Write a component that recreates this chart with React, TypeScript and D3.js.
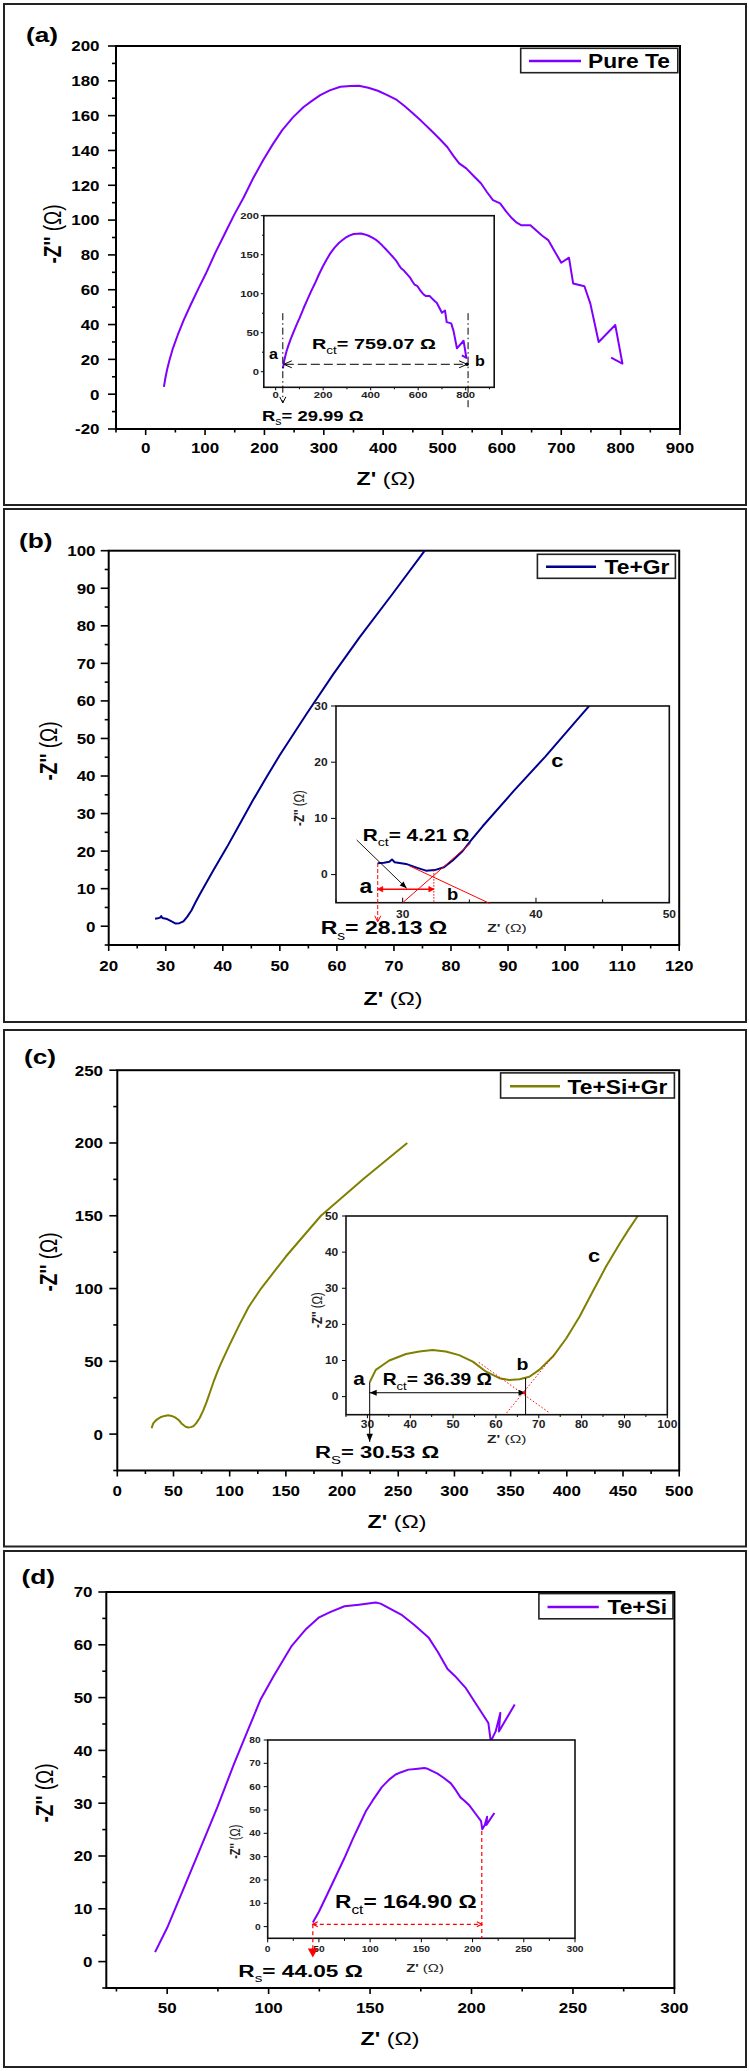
import React from 'react';
import * as d3 from 'd3';

type Pt = [number, number];

// ---------------- data: [Z' (Ω), -Z'' (Ω)] ----------------
const pureTeData: Pt[] = [
  [30.7, 4.2], [33, 9], [36, 14], [40, 19.5], [46, 26.5], [54, 34], [64, 42.5], [76, 51.5], [90, 61.5],
  [101, 69], [117, 81], [133, 92], [149, 103], [165, 113], [181, 124], [198, 134.5], [214, 143.5], [230, 151.7],
  [248, 159], [266, 165], [280, 168.5], [294, 171.8], [310, 174.5], [328, 176.6], [345, 177],
  [359, 177.2], [375, 176], [391, 174.3], [407, 171.8], [423, 169], [436, 165.5], [448, 162],
  [464, 157], [480, 151.7], [494, 147], [508, 142], [518, 137], [528, 132.6], [540, 129.7],
  [552, 125.5], [565, 121], [575, 116], [585, 111.5], [597, 109.6], [607, 105], [617, 101],
  [625, 98.5], [633, 97], [648, 97], [658, 94], [668, 91], [678, 88.5], [689, 82], [700, 75.5],
  [713, 78.4], [720, 63.6], [739, 62], [749, 52], [763, 30], [791, 39.7], [803, 17.6], [784, 21],
];

const teGrData: Pt[] = [
  [28.13, 2.0], [28.6, 2.1], [29.0, 2.3], [29.2, 2.7], [29.4, 2.2], [30.25, 1.9], [31.1, 1.2],
  [31.75, 0.7], [32.4, 0.8], [33.1, 1.3], [33.75, 2.5], [34.5, 4.2], [35.2, 6.3], [36.0, 8.6],
  [38.3, 14.8], [40.7, 21.0], [43.0, 27.3], [45.3, 33.6], [47.7, 39.8], [50.0, 45.6], [54.7, 56.6],
  [59.4, 67.2], [64.0, 77.0], [69.8, 88.6], [75.4, 100],
];

const teSiGrData: Pt[] = [
  [30.53, 4.0], [31.95, 7.4], [35.1, 10], [39, 11.8], [42.1, 12.5], [45.2, 12.9], [48.3, 12.5],
  [51.4, 11.5], [54.6, 9.7], [57.7, 6.9], [60.8, 5.1], [63.1, 4.6], [65.5, 4.8], [67.8, 5.5],
  [70.1, 7.4], [73.3, 11.1], [76.4, 16.1], [79.5, 22.1], [82.6, 29.1], [85.7, 36], [88.8, 42.2],
  [91, 46.3], [93.1, 50], [100, 61.5], [108.7, 75.2], [117, 87.5], [127.9, 100], [150, 122],
  [181.2, 150], [220, 176], [258, 200],
];

const teSiData: Pt[] = [
  [44.05, 1.8], [50, 6.4], [58.3, 14], [66.5, 21.6], [74.8, 29.3], [83.1, 37.6], [90.2, 44.2],
  [96.1, 49.7], [102.5, 54.1], [111.4, 59.8], [118.5, 63], [124.9, 65.2], [130.3, 66.2],
  [137.4, 67.3], [144.5, 67.6], [152.8, 68], [155.2, 67.8], [165.8, 65.6], [171.7, 63.8],
  [178.8, 61.4], [183.5, 58.6], [188.2, 55.4], [191.8, 54.1], [197, 51.9], [202.4, 48.7],
  [208.3, 45.2], [209.5, 41.7], [211.9, 43.6], [214.2, 47.1], [213.5, 43.6], [221.3, 48.7],
];

const panelTags = ['(a)', '(b)', '(c)', '(d)'];
const legendLabels = ['Pure Te', 'Te+Gr', 'Te+Si+Gr', 'Te+Si'];
const seriesColors = ['#8000ff', '#000090', '#808000', '#8000ff'];

// ---------------- ticks ----------------
const aXMajor = [0, 100, 200, 300, 400, 500, 600, 700, 800, 900];
const aXMinor = [-50, 50, 150, 250, 350, 450, 550, 650, 750, 850];
const aYMajor = [-20, 0, 20, 40, 60, 80, 100, 120, 140, 160, 180, 200];
const aYMinor = [-10, 10, 30, 50, 70, 90, 110, 130, 150, 170, 190];
const aInXMajor = [0, 200, 400, 600, 800];
const aInXMinor = [100, 300, 500, 700, 900];
const aInYMajor = [0, 50, 100, 150, 200];
const aInYMinor = [25, 75, 125, 175];

const bXMajor = [20, 30, 40, 50, 60, 70, 80, 90, 100, 110, 120];
const bXMinor = [25, 35, 45, 55, 65, 75, 85, 95, 105, 115];
const bYMajor = [0, 10, 20, 30, 40, 50, 60, 70, 80, 90, 100];
const bYMinor = [-5, 5, 15, 25, 35, 45, 55, 65, 75, 85, 95];
const bInXMajor = [30, 40, 50];
const bInXMinor = [25, 35, 45];
const bInYMajor = [0, 10, 20, 30];
const bInYMinor: number[] = [];

const cXMajor = [0, 50, 100, 150, 200, 250, 300, 350, 400, 450, 500];
const cXMinor = [25, 75, 125, 175, 225, 275, 325, 375, 425, 475];
const cYMajor = [0, 50, 100, 150, 200, 250];
const cYMinor = [-25, 25, 75, 125, 175, 225];
const cInXMajor = [30, 40, 50, 60, 70, 80, 90, 100];
const cInXMinor = [25, 35, 45, 55, 65, 75, 85, 95];
const cInYMajor = [0, 10, 20, 30, 40, 50];
const cInYMinor: number[] = [];

const dXMajor = [50, 100, 150, 200, 250, 300];
const dXMinor = [25, 75, 125, 175, 225, 275];
const dYMajor = [0, 10, 20, 30, 40, 50, 60, 70];
const dYMinor = [-5, 5, 15, 25, 35, 45, 55, 65];
const dInXMajor = [0, 50, 100, 150, 200, 250, 300];
const dInXMinor = [25, 75, 125, 175, 225, 275];
const dInYMajor = [0, 10, 20, 30, 40, 50, 60, 70, 80];
const dInYMinor: number[] = [];

// ---------------- helpers ----------------
const FONT = "'Liberation Sans', Arial, Helvetica, sans-serif";

function Txt(props: any) {
  const { x, y, size, children, anchor = 'start', weight = 'bold', sx = 1.2, fill = '#000', rot = false } = props;
  const tr = rot
    ? `translate(${x},${y}) rotate(-90) scale(1,${sx})`
    : `translate(${x},${y}) scale(${sx},1)`;
  return (
    <text transform={tr} fontFamily={FONT} fontSize={size} fontWeight={weight} textAnchor={anchor} fill={fill}>
      {children}
    </text>
  );
}

function RLabel({ x, y, size, sub, value, sx = 1.28 }: any) {
  return (
    <Txt x={x} y={y} size={size} sx={sx}>
      R
      <tspan fontSize={size * 0.68} fontWeight="normal" dy={size * 0.32}>{sub}</tspan>
      <tspan dy={-size * 0.32}>{value}</tspan>
    </Txt>
  );
}

function head(px: number, py: number, deg: number, len: number, half: number, closed = false) {
  const a = (deg * Math.PI) / 180;
  const bx = px - len * Math.cos(a);
  const by = py - len * Math.sin(a);
  const nx = -Math.sin(a) * half;
  const ny = Math.cos(a) * half;
  return `M${bx + nx},${by + ny}L${px},${py}L${bx - nx},${by - ny}${closed ? 'Z' : ''}`;
}

function angleOf(x1: number, y1: number, x2: number, y2: number) {
  return (Math.atan2(y2 - y1, x2 - x1) * 180) / Math.PI;
}

type Sc = d3.ScaleLinear<number, number>;

interface AxisSpec { domain: [number, number]; range: [number, number]; major: number[]; minor: number[] }
interface InsetSpec {
  x: AxisSpec; y: AxisSpec;
  yLen: number; xLen: number; xIn: boolean;
  labelSize: number; labelSx: number; yLabelRight: number; xLabelBaseline: number;
  xTitle?: [number, number]; yTitle?: [number, number]; titleSize?: number;
}
interface PanelCfg {
  border: [number, number];
  tagPos: [number, number];
  data: Pt[];
  x: AxisSpec; y: AxisSpec;
  yLabelRight: number; xLabelBaseline: number;
  legend: { x0: number; x1: number; y0: number; y1: number; l0: number; l1: number; ly: number; tx: number; tb: number };
  xTitle: [number, number]; yTitle: [number, number];
  inset: InsetSpec;
  annot: (ix: Sc, iy: Sc) => React.ReactNode;
}

// ---------------- annotations ----------------
function annotA(ix: Sc, iy: Sc) {
  const xl = ix(30), xr = ix(810), yh = iy(9.5);
  const dd = '7,3,1.5,3';
  return (
    <g>
      <line x1={xl} x2={xl} y1={iy(75)} y2={iy(-40)} stroke="#000" strokeWidth={1} strokeDasharray={dd} />
      <path d={head(xl, iy(-40), 90, 6, 3)} fill="none" stroke="#000" strokeWidth={1} />
      <line x1={xr} x2={xr} y1={iy(75)} y2={iy(-49)} stroke="#000" strokeWidth={1} strokeDasharray={dd} />
      <line x1={xl + 2} x2={xr - 2} y1={yh} y2={yh} stroke="#000" strokeWidth={1} strokeDasharray="9,4" />
      <path d={head(xl + 1, yh, 180, 8, 3.5)} fill="none" stroke="#000" strokeWidth={1} />
      <path d={head(xr - 1, yh, 0, 8, 3.5)} fill="none" stroke="#000" strokeWidth={1} />
      <circle cx={xr - 1} cy={yh} r={1.8} fill="#000" />
      <Txt x={ix(-9)} y={iy(16.3)} size={14} anchor="middle" sx={1.15}>a</Txt>
      <Txt x={ix(860)} y={iy(7.3)} size={14} anchor="middle" sx={1.15}>b</Txt>
      <RLabel x={ix(153)} y={iy(28.7)} size={15.5} sub="ct" value="= 759.07 Ω" sx={1.28} />
      <RLabel x={ix(-58)} y={iy(-62.8)} size={15} sub="s" value="= 29.99 Ω" sx={1.23} />
    </g>
  );
}

function annotB(ix: Sc, iy: Sc) {
  const xa = ix(28.13), xb = ix(32.34), yh = iy(-2.6);
  const ax1 = ix(26.55), ay1 = iy(6.16), ax2 = ix(30.3), ay2 = iy(-2.44);
  return (
    <g>
      <line x1={ix(30)} y1={iy(-5)} x2={ix(35.1)} y2={iy(5.6)} stroke="#ff0000" strokeWidth={1} />
      <line x1={ix(30.5)} y1={iy(1.56)} x2={ix(36.5)} y2={iy(-5.1)} stroke="#ff0000" strokeWidth={1} />
      <line x1={xa} x2={xa} y1={iy(2.06)} y2={iy(-8.4)} stroke="#ff0000" strokeWidth={1} strokeDasharray="4,2" />
      <path d={head(xa, iy(-8.4), 90, 6, 3)} fill="none" stroke="#ff0000" strokeWidth={1} />
      <line x1={xb} x2={xb} y1={iy(0.8)} y2={iy(-5)} stroke="#ff0000" strokeWidth={1} strokeDasharray="1.5,1.5" />
      <line x1={xa} x2={xb} y1={yh} y2={yh} stroke="#ff0000" strokeWidth={1.4} />
      <path d={head(xa, yh, 180, 5, 2.6, true)} fill="#ff0000" stroke="#ff0000" strokeWidth={0.8} />
      <path d={head(xb, yh, 0, 5, 2.6, true)} fill="#ff0000" stroke="#ff0000" strokeWidth={0.8} />
      <line x1={ax1} y1={ay1} x2={ax2} y2={ay2} stroke="#000" strokeWidth={0.9} />
      <path d={head(ax2, ay2, angleOf(ax1, ay1, ax2, ay2), 7, 2.8, true)} fill="#000" />
      <Txt x={ix(27.25)} y={iy(-3.3)} size={20} anchor="middle" sx={1.15}>a</Txt>
      <Txt x={ix(33.74)} y={iy(-4.5)} size={16} anchor="middle" sx={1.15}>b</Txt>
      <Txt x={ix(41.6)} y={iy(19.2)} size={19} anchor="middle" sx={1.15}>c</Txt>
      <RLabel x={ix(27.0)} y={iy(6.03)} size={16} sub="ct" value="= 4.21 Ω" sx={1.3} />
      <RLabel x={ix(23.85)} y={iy(-10.6)} size={17.7} sub="s" value="= 28.13 Ω" sx={1.3} />
    </g>
  );
}

function annotC(ix: Sc, iy: Sc) {
  const xa = ix(30.53), xb = ix(66.92), yh = iy(1.08);
  return (
    <g>
      <line x1={ix(62.5)} y1={iy(-4.5)} x2={ix(73.5)} y2={iy(11.5)} stroke="#ff0000" strokeWidth={1} strokeDasharray="1.5,2" />
      <line x1={ix(56)} y1={iy(9.5)} x2={ix(72.5)} y2={iy(-4.5)} stroke="#ff0000" strokeWidth={1} strokeDasharray="1.5,2" />
      <line x1={xa} x2={xa} y1={iy(4.0)} y2={iy(-12.5)} stroke="#000" strokeWidth={1} />
      <path d={head(xa, iy(-12.5), 90, 8, 3.2, true)} fill="#000" />
      <line x1={xb} x2={xb} y1={iy(5.15)} y2={iy(-5)} stroke="#000" strokeWidth={1} />
      <line x1={xa} x2={xb} y1={yh} y2={yh} stroke="#000" strokeWidth={1} />
      <path d={head(xa, yh, 180, 7, 3, true)} fill="#000" />
      <path d={head(xb, yh, 0, 7, 3, true)} fill="#000" />
      <circle cx={ix(66.6)} cy={iy(1.1)} r={1.6} fill="#ff0000" />
      <Txt x={ix(28.03)} y={iy(3.2)} size={18} anchor="middle" sx={1.15}>a</Txt>
      <Txt x={ix(66.2)} y={iy(7.36)} size={17} anchor="middle" sx={1.15}>b</Txt>
      <Txt x={ix(82.9)} y={iy(37.3)} size={19} anchor="middle" sx={1.15}>c</Txt>
      <RLabel x={ix(33.57)} y={iy(3.2)} size={16} sub="ct" value="= 36.39 Ω" sx={1.2} />
      <RLabel x={ix(17.76)} y={iy(-17.1)} size={17} sub="S" value="= 30.53 Ω" sx={1.3} />
    </g>
  );
}

function annotD(ix: Sc, iy: Sc) {
  const xa = ix(44.05), xb = ix(209), yh = iy(1.0);
  return (
    <g>
      <line x1={xa} x2={xb} y1={yh} y2={yh} stroke="#ff0000" strokeWidth={1.2} strokeDasharray="4,3" />
      <path d={head(xa, yh, 180, 5, 2.5)} fill="none" stroke="#ff0000" strokeWidth={1.2} />
      <path d={head(xb, yh, 0, 5, 2.5)} fill="none" stroke="#ff0000" strokeWidth={1.2} />
      <line x1={xb} x2={xb} y1={iy(41)} y2={iy(-5)} stroke="#ff0000" strokeWidth={1.2} strokeDasharray="4,3" />
      <line x1={xa} x2={xa} y1={yh} y2={iy(-10)} stroke="#ff0000" strokeWidth={1.2} strokeDasharray="4,3" />
      <path d={head(xa, iy(-13.2), 90, 9, 5, true)} fill="#ff0000" />
      <RLabel x={ix(65.7)} y={iy(8.1)} size={18.6} sub="ct" value="= 164.90 Ω" sx={1.22} />
      <RLabel x={ix(-28.7)} y={iy(-21.5)} size={17} sub="s" value="= 44.05 Ω" sx={1.33} />
    </g>
  );
}

// ---------------- panel layout ----------------
const panels: PanelCfg[] = [
  {
    border: [4, 505], tagPos: [26, 41.7], data: pureTeData,
    x: { domain: [-50, 900], range: [116, 680], major: aXMajor, minor: aXMinor },
    y: { domain: [-20, 200], range: [429, 46], major: aYMajor, minor: aYMinor },
    yLabelRight: 99.5, xLabelBaseline: 453,
    legend: { x0: 520.7, x1: 677.8, y0: 48.3, y1: 72.7, l0: 529, l1: 581, ly: 61, tx: 588, tb: 68.3 },
    xTitle: [386, 485], yTitle: [61, 234],
    inset: {
      x: { domain: [-50, 920], range: [263.8, 494.2], major: aInXMajor, minor: aInXMinor },
      y: { domain: [-20, 200], range: [387.3, 215.7], major: aInYMajor, minor: aInYMinor },
      yLen: 3, xLen: 3, xIn: false, labelSize: 9, labelSx: 1.25, yLabelRight: 259, xLabelBaseline: 398.3,
    },
    annot: annotA,
  },
  {
    border: [509, 1022], tagPos: [19, 547.5], data: teGrData,
    x: { domain: [20, 120], range: [108.7, 679.2], major: bXMajor, minor: bXMinor },
    y: { domain: [-5, 100], range: [945, 550.7], major: bYMajor, minor: bYMinor },
    yLabelRight: 95.5, xLabelBaseline: 971,
    legend: { x0: 537.4, x1: 675.4, y0: 554.3, y1: 578.3, l0: 546, l1: 596, ly: 566.7, tx: 604.5, tb: 574 },
    xTitle: [393, 1005], yTitle: [56.5, 751],
    inset: {
      x: { domain: [25, 50], range: [336, 669.3], major: bInXMajor, minor: bInXMinor },
      y: { domain: [-5, 30], range: [902.7, 706], major: bInYMajor, minor: bInYMinor },
      yLen: 5, xLen: 5, xIn: true, labelSize: 10, labelSx: 1.2, yLabelRight: 327.7, xLabelBaseline: 918,
      xTitle: [507, 931.7], yTitle: [304, 808], titleSize: 11.5,
    },
    annot: annotB,
  },
  {
    border: [1030, 1546.5], tagPos: [24, 1064], data: teSiGrData,
    x: { domain: [0, 500], range: [117.3, 679.2], major: cXMajor, minor: cXMinor },
    y: { domain: [-25, 250], range: [1470.5, 1070.2], major: cYMajor, minor: cYMinor },
    yLabelRight: 103, xLabelBaseline: 1496,
    legend: { x0: 500.6, x1: 674.4, y0: 1072.9, y1: 1098, l0: 510, l1: 560, ly: 1086.3, tx: 567.6, tb: 1093.5 },
    xTitle: [397, 1527.5], yTitle: [56.5, 1262],
    inset: {
      x: { domain: [25, 100], range: [346, 667.3], major: cInXMajor, minor: cInXMinor },
      y: { domain: [-5, 50], range: [1414.7, 1216], major: cInYMajor, minor: cInYMinor },
      yLen: 4, xLen: 3.5, xIn: false, labelSize: 10, labelSx: 1.2, yLabelRight: 338.3, xLabelBaseline: 1428.3,
      xTitle: [506.7, 1443.3], yTitle: [322, 1310], titleSize: 11.5,
    },
    annot: annotC,
  },
  {
    border: [1551, 2067], tagPos: [21.6, 1584], data: teSiData,
    x: { domain: [20, 300], range: [106.3, 674.4], major: dXMajor, minor: dXMinor },
    y: { domain: [-5, 70], range: [1988, 1592], major: dYMajor, minor: dYMinor },
    yLabelRight: 92.5, xLabelBaseline: 2013,
    legend: { x0: 538.9, x1: 673, y0: 1593.6, y1: 1618.8, l0: 547.5, l1: 598.8, ly: 1607, tx: 607.4, tb: 1614 },
    xTitle: [390, 2045], yTitle: [52.7, 1793],
    inset: {
      x: { domain: [0, 300], range: [267.7, 575], major: dInXMajor, minor: dInXMinor },
      y: { domain: [-5, 80], range: [1938.3, 1740], major: dInYMajor, minor: dInYMinor },
      yLen: 4, xLen: 4, xIn: false, labelSize: 8.5, labelSx: 1.2, yLabelRight: 260.7, xLabelBaseline: 1952.3,
      xTitle: [425, 1972.3], yTitle: [240, 1841.7], titleSize: 11,
    },
    annot: annotD,
  },
];

function Panel({ cfg, idx }: { cfg: PanelCfg; idx: number }) {
  const xs = d3.scaleLinear().domain(cfg.x.domain).range(cfg.x.range);
  const ys = d3.scaleLinear().domain(cfg.y.domain).range(cfg.y.range);
  const ins = cfg.inset;
  const ix = d3.scaleLinear().domain(ins.x.domain).range(ins.x.range);
  const iy = d3.scaleLinear().domain(ins.y.domain).range(ins.y.range);
  const mainLine = d3.line<Pt>().x((d) => xs(d[0])).y((d) => ys(d[1]));
  const insetLine = d3.line<Pt>().x((d) => ix(d[0])).y((d) => iy(d[1]));
  const [X0, X1] = cfg.x.range;
  const [Y0, Y1] = cfg.y.range;
  const [iX0, iX1] = ins.x.range;
  const [iY0, iY1] = ins.y.range;
  const clipId = `inset-clip-${idx}`;
  const color = seriesColors[idx];
  const L = cfg.legend;
  const tickStroke = { stroke: '#000', strokeWidth: 1.6 };
  const iTick = { stroke: '#000', strokeWidth: 1 };
  const xDir = ins.xIn ? -1 : 1;
  return (
    <g>
      <rect x={4} y={cfg.border[0]} width={742} height={cfg.border[1] - cfg.border[0]} fill="none" stroke="#222" strokeWidth={2} />
      <Txt x={cfg.tagPos[0]} y={cfg.tagPos[1]} size={21} sx={1.25}>{panelTags[idx]}</Txt>

      {/* main axes */}
      {cfg.x.major.map((t) => (
        <line key={'xm' + t} x1={xs(t)} x2={xs(t)} y1={Y0} y2={Y0 + 6} {...tickStroke} />
      ))}
      {cfg.x.minor.map((t) => (
        <line key={'xn' + t} x1={xs(t)} x2={xs(t)} y1={Y0} y2={Y0 + 3.5} {...tickStroke} />
      ))}
      {cfg.y.major.map((t) => (
        <line key={'ym' + t} x1={X0} x2={X0 - 8} y1={ys(t)} y2={ys(t)} {...tickStroke} />
      ))}
      {cfg.y.minor.map((t) => (
        <line key={'yn' + t} x1={X0} x2={X0 - 4} y1={ys(t)} y2={ys(t)} {...tickStroke} />
      ))}
      <rect x={X0} y={Y1} width={X1 - X0} height={Y0 - Y1} fill="none" stroke="#000" strokeWidth={2} />
      {cfg.x.major.map((t) => (
        <Txt key={'xl' + t} x={xs(t)} y={cfg.xLabelBaseline} size={15} sx={1.13} anchor="middle">{t}</Txt>
      ))}
      {cfg.y.major.map((t) => (
        <Txt key={'yl' + t} x={cfg.yLabelRight} y={ys(t) + 5.4} size={15} sx={1.13} anchor="end">{t}</Txt>
      ))}
      <Txt x={cfg.xTitle[0]} y={cfg.xTitle[1]} size={19} sx={1.22} anchor="middle">
        {"Z' "}<tspan fontWeight="normal">(Ω)</tspan>
      </Txt>
      <Txt x={cfg.yTitle[0]} y={cfg.yTitle[1]} size={19} sx={1.3} anchor="middle" rot>
        {"-Z'' "}<tspan fontWeight="normal">(Ω)</tspan>
      </Txt>

      <path d={mainLine(cfg.data) || ''} fill="none" stroke={color} strokeWidth={2} strokeLinejoin="round" />

      {/* legend */}
      <rect x={L.x0} y={L.y0} width={L.x1 - L.x0} height={L.y1 - L.y0} fill="#fff" stroke="#222" strokeWidth={1.6} />
      <line x1={L.l0} x2={L.l1} y1={L.ly} y2={L.ly} stroke={color} strokeWidth={2.4} />
      <Txt x={L.tx} y={L.tb} size={20} sx={1.14}>{legendLabels[idx]}</Txt>

      {/* inset */}
      <clipPath id={clipId}>
        <rect x={iX0} y={iY1} width={iX1 - iX0} height={iY0 - iY1} />
      </clipPath>
      <rect x={iX0} y={iY1} width={iX1 - iX0} height={iY0 - iY1} fill="#fff" />
      <path d={insetLine(cfg.data) || ''} fill="none" stroke={color} strokeWidth={2} strokeLinejoin="round" clipPath={`url(#${clipId})`} />
      {ins.x.major.map((t) => (
        <line key={'ixm' + t} x1={ix(t)} x2={ix(t)} y1={iY0} y2={iY0 + xDir * ins.xLen} {...iTick} />
      ))}
      {ins.x.minor.map((t) => (
        <line key={'ixn' + t} x1={ix(t)} x2={ix(t)} y1={iY0} y2={iY0 + xDir * ins.xLen * 0.65} {...iTick} />
      ))}
      {ins.y.major.map((t) => (
        <line key={'iym' + t} x1={iX0} x2={iX0 - ins.yLen} y1={iy(t)} y2={iy(t)} {...iTick} />
      ))}
      {ins.y.minor.map((t) => (
        <line key={'iyn' + t} x1={iX0} x2={iX0 - ins.yLen * 0.6} y1={iy(t)} y2={iy(t)} {...iTick} />
      ))}
      <rect x={iX0} y={iY1} width={iX1 - iX0} height={iY0 - iY1} fill="none" stroke="#111" strokeWidth={1.6} />
      {ins.x.major.map((t) => (
        <Txt key={'ixl' + t} x={ix(t)} y={ins.xLabelBaseline} size={ins.labelSize} sx={ins.labelSx} anchor="middle" fill="#222">{t}</Txt>
      ))}
      {ins.y.major.map((t) => (
        <Txt key={'iyl' + t} x={ins.yLabelRight} y={iy(t) + ins.labelSize * 0.36} size={ins.labelSize} sx={ins.labelSx} anchor="end" fill="#222">{t}</Txt>
      ))}
      {ins.xTitle && (
        <Txt x={ins.xTitle[0]} y={ins.xTitle[1]} size={ins.titleSize} sx={1.35} anchor="middle" fill="#222">
          {"Z' "}<tspan fontWeight="normal">(Ω)</tspan>
        </Txt>
      )}
      {ins.yTitle && (
        <Txt x={ins.yTitle[0]} y={ins.yTitle[1]} size={ins.titleSize} sx={1.3} anchor="middle" rot fill="#222">
          {"-Z'' "}<tspan fontWeight="normal">(Ω)</tspan>
        </Txt>
      )}
      {cfg.annot(ix, iy)}
    </g>
  );
}

export default function App() {
  return (
    <div style={{ position: 'absolute', left: 0, top: 0, width: 749, height: 2071, background: '#fff' }}>
      <svg width={749} height={2071} viewBox="0 0 749 2071" style={{ display: 'block' }}>
        <rect x={0} y={0} width={749} height={2071} fill="#fff" />
        {panels.map((p, i) => (
          <Panel key={i} cfg={p} idx={i} />
        ))}
      </svg>
    </div>
  );
}
